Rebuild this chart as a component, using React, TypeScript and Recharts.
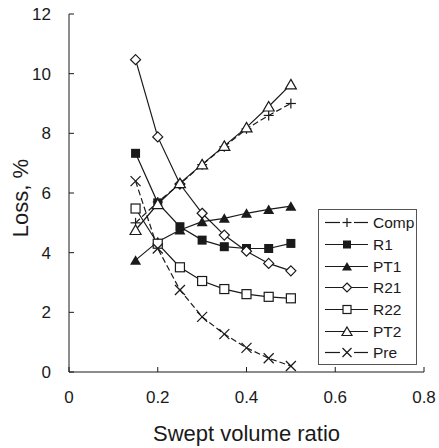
import React from "react"
import {
  LineChart,
  Line,
  XAxis,
  YAxis,
  Label
} from "recharts"

const xValues = [0.15, 0.2, 0.25, 0.3, 0.35, 0.4, 0.45, 0.5]
const comp = [5.0, 5.7, 6.3, 6.95, 7.55, 8.15, 8.6, 9.0]
const r1 = [7.33, 5.67, 4.87, 4.42, 4.2, 4.14, 4.14, 4.31]
const pt1 = [3.75, 4.37, 4.76, 5.04, 5.15, 5.32, 5.45, 5.56]
const r21 = [10.47, 7.88, 6.3, 5.32, 4.59, 4.05, 3.64, 3.39]
const r22 = [5.48, 4.3, 3.51, 3.05, 2.78, 2.61, 2.52, 2.47]
const pt2 = [4.76, 5.63, 6.33, 6.96, 7.58, 8.2, 8.9, 9.64]
const pre = [6.4, 4.14, 2.75, 1.85, 1.27, 0.81, 0.46, 0.2]

const xTicks = [0, 0.2, 0.4, 0.6, 0.8]
const yTicks = [0, 2, 4, 6, 8, 10, 12]

const INK = "#1a1a1a"

type Shape = "plus" | "square" | "triangle" | "diamond" | "openSquare" | "openTriangle" | "cross"

const SERIES: { key: string; name: string; shape: Shape; dashed: boolean }[] = [
  { key: "comp", name: "Comp", shape: "plus", dashed: true },
  { key: "r1", name: "R1", shape: "square", dashed: false },
  { key: "pt1", name: "PT1", shape: "triangle", dashed: false },
  { key: "r21", name: "R21", shape: "diamond", dashed: false },
  { key: "r22", name: "R22", shape: "openSquare", dashed: false },
  { key: "pt2", name: "PT2", shape: "openTriangle", dashed: false },
  { key: "pre", name: "Pre", shape: "cross", dashed: true }
]

const data = xValues.map((x, i) => ({
  x,
  comp: comp[i],
  r1: r1[i],
  pt1: pt1[i],
  r21: r21[i],
  r22: r22[i],
  pt2: pt2[i],
  pre: pre[i]
}))

function Marker({ shape, cx, cy, s = 5 }: { shape: Shape; cx: number; cy: number; s?: number }) {
  const sw = 1.2
  switch (shape) {
    case "plus":
      return (
        <g stroke={INK} strokeWidth={sw}>
          <line x1={cx - s} y1={cy} x2={cx + s} y2={cy} />
          <line x1={cx} y1={cy - s} x2={cx} y2={cy + s} />
        </g>
      )
    case "square":
      return <rect x={cx - s + 0.5} y={cy - s + 0.5} width={2 * s - 1} height={2 * s - 1} fill={INK} />
    case "openSquare":
      return <rect x={cx - s + 0.5} y={cy - s + 0.5} width={2 * s - 1} height={2 * s - 1} fill="#fff" stroke={INK} strokeWidth={sw} />
    case "triangle":
      return <polygon points={`${cx},${cy - s} ${cx + s + 0.5},${cy + s - 0.5} ${cx - s - 0.5},${cy + s - 0.5}`} fill={INK} />
    case "openTriangle":
      return <polygon points={`${cx},${cy - s} ${cx + s + 0.5},${cy + s - 0.5} ${cx - s - 0.5},${cy + s - 0.5}`} fill="#fff" stroke={INK} strokeWidth={sw} />
    case "diamond":
      return <polygon points={`${cx},${cy - s} ${cx + s},${cy} ${cx},${cy + s} ${cx - s},${cy}`} fill="#fff" stroke={INK} strokeWidth={sw} />
    case "cross":
      return (
        <g stroke={INK} strokeWidth={sw}>
          <line x1={cx - s} y1={cy - s} x2={cx + s} y2={cy + s} />
          <line x1={cx - s} y1={cy + s} x2={cx + s} y2={cy - s} />
        </g>
      )
  }
}

// legend sits inside the plot, lower right
function LegendBox() {
  return (
    <div style={{
      position: "absolute",
      left: 318,
      top: 209,
      border: "1px solid #555",
      background: "#fff",
      width: 97,
      paddingTop: 2,
      fontSize: 15.5,
      color: INK
    }}>
      {SERIES.map(s => {
        const gap = s.shape === "plus" || s.shape === "cross"
        return (
          <div key={s.key} style={{ display: "flex", alignItems: "center", height: 21.7 }}>
            <svg width={54} height={21} style={{ flex: "none" }}>
              {gap ? (
                <g stroke={INK} strokeWidth={1.2}>
                  <line x1={6} y1={10.5} x2={21} y2={10.5} />
                  <line x1={35} y1={10.5} x2={49} y2={10.5} />
                </g>
              ) : (
                <line x1={6} y1={10.5} x2={49} y2={10.5} stroke={INK} strokeWidth={1.2} />
              )}
              <Marker shape={s.shape} cx={28} cy={10.5} s={4.5} />
            </svg>
            <span style={{ lineHeight: "21px" }}>{s.name}</span>
          </div>
        )
      })}
    </div>
  )
}

export default function App() {
  return (
    <div style={{ position: "relative", width: 439, height: 448, fontFamily: "'Liberation Sans', Arial, sans-serif" }}>
      <style>{`body{margin:0}`}</style>
      <LineChart width={439} height={448} data={data} margin={{ top: 14, right: 15, bottom: 0, left: 0 }}>
        <XAxis
          dataKey="x"
          type="number"
          domain={[0, 0.8]}
          ticks={xTicks}
          tickFormatter={(v: number) => String(v)}
          height={76}
          tickSize={-5}
          tickMargin={24}
          stroke={INK}
          tick={{ fontSize: 17, fill: INK }}
        >
          <Label value="Swept volume ratio" position="center" dy={23} style={{ fontSize: 22, fill: INK }} />
        </XAxis>
        <XAxis xAxisId="top" orientation="top" dataKey="x" type="number" domain={[0, 0.8]} height={0} tick={false} tickLine={false} stroke={INK} />
        <YAxis
          domain={[0, 12]}
          ticks={yTicks}
          width={69}
          tickSize={-5}
          tickMargin={23}
          stroke={INK}
          tick={{ fontSize: 17, fill: INK }}
        >
          <Label value="Loss, %" angle={-90} position="center" dx={-14} dy={5} style={{ fontSize: 22, fill: INK }} />
        </YAxis>
        <YAxis yAxisId="right" orientation="right" domain={[0, 12]} width={0} tick={false} tickLine={false} stroke={INK} />
        {SERIES.map(s => (
          <Line
            key={s.key}
            dataKey={s.key}
            name={s.name}
            stroke={INK}
            strokeWidth={1.2}
            strokeDasharray={s.dashed ? "6 3" : undefined}
            isAnimationActive={false}
            dot={(p: any) => <Marker key={`${s.key}-${p.index}`} shape={s.shape} cx={p.cx} cy={p.cy} />}
            activeDot={false}
          />
        ))}
      </LineChart>
      <LegendBox />
    </div>
  )
}
